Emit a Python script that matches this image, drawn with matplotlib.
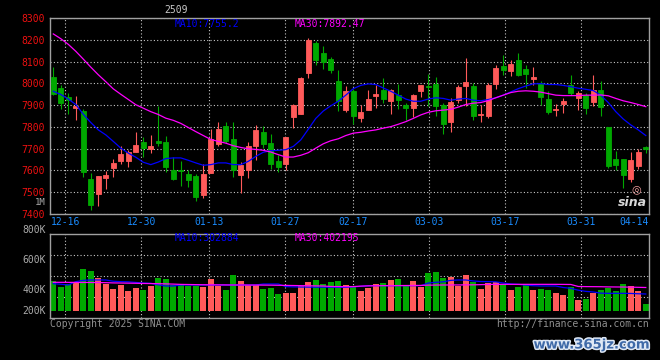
import matplotlib
matplotlib.use("Agg")
import matplotlib.pyplot as plt
import matplotlib.patheffects as pe
import numpy as np

# trading days shown (index = x position)
dates = ['12-12', '12-13', '12-16', '12-17', '12-18', '12-19', '12-20', '12-23', '12-24', '12-25',
         '12-26', '12-27', '12-30', '12-31', '01-02', '01-03', '01-06', '01-07', '01-08', '01-09',
         '01-10', '01-13', '01-14', '01-15', '01-16', '01-17', '01-20', '01-21', '01-22', '01-23',
         '01-24', '01-27', '02-05', '02-06', '02-07', '02-10', '02-11', '02-12', '02-13', '02-14',
         '02-17', '02-18', '02-19', '02-20', '02-21', '02-24', '02-25', '02-26', '02-27', '02-28',
         '03-03', '03-04', '03-05', '03-06', '03-07', '03-10', '03-11', '03-12', '03-13', '03-14',
         '03-17', '03-18', '03-19', '03-20', '03-21', '03-24', '03-25', '03-26', '03-27', '03-28',
         '03-31', '04-01', '04-02', '04-03', '04-07', '04-08', '04-09', '04-10', '04-11', '04-14']

opens = [8028, 7978, 7937, 7888, 7873, 7562, 7489, 7564, 7612, 7644,
         7641, 7682, 7731, 7699, 7736, 7731, 7603, 7603, 7585, 7574,
         7486, 7587, 7722, 7804, 7745, 7580, 7603, 7710, 7777, 7727,
         7644, 7628, 7847, 7859, 8048, 8186, 8142, 8113, 8010, 7879,
         7964, 7842, 7879, 7941, 7969, 7921, 7946, 7902, 7888, 7964,
         7988, 7996, 7900, 7824, 7924, 7988, 7988, 7854, 7851, 7998,
         8078, 8057, 8110, 8068, 8022, 8002, 7928, 7876, 7905, 7991,
         7931, 7946, 7915, 7969, 7801, 7654, 7654, 7558, 7619, 7705]
highs = [8075, 7991, 7955, 7941, 7880, 7588, 7574, 7596, 7652, 7713,
         7695, 7778, 7752, 7763, 7897, 7757, 7663, 7641, 7603, 7584,
         7631, 7792, 7824, 7824, 7824, 7638, 7728, 7809, 7804, 7768,
         7672, 7754, 7903, 8031, 8208, 8195, 8171, 8121, 8063, 7987,
         7973, 7900, 7969, 7991, 8023, 7975, 7996, 7908, 7953, 7991,
         8042, 8028, 7912, 7931, 7991, 8119, 8002, 7900, 8002, 8083,
         8131, 8106, 8139, 8086, 8074, 8013, 7964, 7903, 7931, 8037,
         7964, 7958, 8037, 8011, 7801, 7687, 7654, 7682, 7699, 7714]
lows = [7945, 7882, 7861, 7833, 7571, 7416, 7434, 7512, 7571, 7631,
        7617, 7682, 7660, 7680, 7710, 7593, 7555, 7527, 7521, 7459,
        7474, 7587, 7710, 7724, 7568, 7495, 7565, 7646, 7702, 7608,
        7593, 7603, 7797, 7859, 8025, 8083, 8068, 8048, 7874, 7870,
        7813, 7824, 7879, 7885, 7912, 7859, 7882, 7830, 7844, 7938,
        7897, 7851, 7769, 7775, 7912, 7897, 7833, 7821, 7839, 7976,
        8037, 8034, 8034, 7979, 7991, 7900, 7858, 7851, 7865, 7946,
        7877, 7859, 7897, 7851, 7611, 7599, 7520, 7547, 7608, 7678]
closes = [7952, 7912, 7925, 7897, 7591, 7440, 7574, 7579, 7635, 7676,
          7684, 7717, 7701, 7713, 7724, 7614, 7559, 7596, 7555, 7477,
          7585, 7745, 7791, 7736, 7603, 7623, 7713, 7786, 7722, 7628,
          7617, 7754, 7900, 8023, 8202, 8110, 8098, 8063, 7920, 7964,
          7851, 7868, 7929, 7950, 7928, 7969, 7923, 7888, 7946, 7991,
          7982, 7897, 7813, 7915, 7982, 8005, 7851, 7861, 7991, 8069,
          8060, 8090, 8039, 8043, 8028, 7938, 7870, 7882, 7921, 7955,
          7955, 7888, 7969, 7893, 7619, 7626, 7577, 7649, 7682, 7699]

ma10 = [7964, 7949, 7928, 7903, 7858, 7820, 7786, 7763, 7733, 7702,
        7679, 7660, 7637, 7626, 7638, 7654, 7657, 7657, 7646, 7634,
        7623, 7626, 7634, 7634, 7626, 7626, 7641, 7664, 7683, 7690,
        7692, 7695, 7710, 7740, 7789, 7839, 7873, 7897, 7918, 7946,
        7976, 7991, 7998, 7995, 7979, 7964, 7946, 7928, 7918, 7918,
        7928, 7934, 7931, 7923, 7928, 7931, 7923, 7920, 7926, 7934,
        7946, 7961, 7976, 7988, 7998, 7999, 7995, 7995, 7991, 7985,
        7978, 7973, 7967, 7946, 7912, 7870, 7836, 7809, 7786, 7760]
ma30 = [8228, 8206, 8180, 8148, 8112, 8075, 8040, 8008, 7975, 7950,
        7926, 7902, 7886, 7870, 7857, 7840, 7830, 7816, 7797, 7778,
        7760, 7742, 7733, 7725, 7713, 7705, 7699, 7696, 7692, 7684,
        7672, 7661, 7661, 7669, 7681, 7702, 7722, 7736, 7745, 7760,
        7771, 7775, 7781, 7786, 7794, 7801, 7812, 7824, 7839, 7855,
        7867, 7874, 7877, 7881, 7891, 7903, 7909, 7912, 7921, 7934,
        7946, 7958, 7964, 7966, 7964, 7960, 7953, 7946, 7944, 7944,
        7944, 7946, 7946, 7947, 7943, 7931, 7920, 7912, 7903, 7893]

# volume in thousands
volume_k = [504, 403, 459, 476, 706, 672, 560, 459, 370, 437,
            336, 381, 358, 426, 554, 538, 431, 437, 426, 426,
            403, 538, 420, 353, 605, 504, 437, 437, 370, 386,
            286, 308, 308, 426, 493, 521, 454, 493, 504, 437,
            409, 336, 392, 454, 470, 521, 538, 437, 504, 409,
            644, 655, 549, 566, 426, 605, 493, 370, 470, 493,
            437, 353, 403, 437, 353, 370, 353, 302, 269, 403,
            185, 202, 308, 353, 381, 336, 454, 420, 336, 118]
vol_ma10_k = [459, 450, 437, 493, 515, 521, 521, 521, 500, 493,
              490, 480, 470, 465, 440, 420, 420, 437, 437, 437,
              437, 437, 437, 437, 437, 437, 437, 437, 454, 454,
              454, 410, 405, 403, 402, 400, 400, 400, 398, 398,
              405, 415, 426, 426, 426, 426, 426, 426, 426, 426,
              470, 482, 490, 515, 521, 521, 505, 495, 493, 490,
              470, 455, 448, 435, 425, 420, 420, 420, 395, 381,
              350, 330, 320, 300, 297, 297, 297, 295, 290, 286]
vol_ma30_k = [482, 482, 481, 480, 480, 479, 478, 476, 472, 470,
              468, 466, 463, 461, 459, 456, 452, 447, 445, 443,
              441, 440, 439, 438, 437, 437, 436, 436, 435, 434,
              432, 430, 428, 426, 424, 422, 420, 412, 410, 409,
              410, 418, 422, 425, 426, 426, 427, 428, 429, 430,
              434, 436, 437, 438, 438, 439, 440, 443, 446, 447,
              448, 448, 448, 448, 448, 448, 448, 448, 447, 446,
              412, 410, 409, 408, 405, 404, 403, 401, 398, 395]

label_dates = ['12-16', '12-30', '01-13', '01-27', '02-17', '03-03', '03-17', '03-31', '04-14']
price_ticks = [8300, 8200, 8100, 8000, 7900, 7800, 7700, 7600, 7500, 7400]

RED = '#ff5a5a'
GREEN = '#00a800'
GRID = '#c8c8c8'
BORDER = '#a0a0a0'
MONO = 'DejaVu Sans Mono'
FS = 7

o = np.array(opens); h = np.array(highs); l = np.array(lows); c = np.array(closes)
x = np.arange(len(dates))
up = c >= o
colors = np.where(up, RED, GREEN)

fig = plt.figure(figsize=(6.6, 3.6), dpi=100, facecolor='black')
ax = fig.add_axes([50 / 660, 1 - 213.7 / 360, 599 / 660, 195.4 / 360])
axv = fig.add_axes([50 / 660, 1 - 317.7 / 360, 599 / 660, 83.4 / 360])

x_lo, x_hi = -0.44, 79.43

# the date grid of the original is slightly stretched compared to the candles
def grid_pos(i):
    return 1.6 + (i - 2) * 1.011

grid_x = [grid_pos(dates.index(d)) for d in label_dates]

for a in (ax, axv):
    a.set_facecolor('black')
    a.set_xlim(x_lo, x_hi)
    for s in a.spines.values():
        s.set_color(BORDER)
        s.set_linewidth(1)
    a.set_xticks([])
    for gx in grid_x:
        if gx < x_hi - 1:
            a.axvline(gx, color=GRID, lw=0.8, ls=(0, (1, 2)), zorder=0)

# ---- price panel ----
ax.vlines(x, l, h, color=colors, lw=0.8, zorder=2)
ax.bar(x, np.abs(c - o), bottom=np.minimum(o, c), width=0.72,
       color=colors, edgecolor=colors, lw=0.6, zorder=3)
ax.plot(x, ma10, color='#0000ff', lw=0.9, zorder=4)
ax.plot(x, ma30, color='#ff00ff', lw=0.9, zorder=4)

ax.set_ylim(7400, 8300)
ax.set_yticks(price_ticks)
ax.set_yticklabels([str(t) for t in price_ticks], color='#ee1111',
                   fontsize=FS, family=MONO)
ax.tick_params(axis='y', length=0, pad=4)
ax.grid(axis='y', color=GRID, lw=0.8, ls=(0, (1, 2)))
ax.text(-0.007, 0.058, '1M', transform=ax.transAxes, ha='right', va='center',
        color='#aaaaaa', fontsize=6.5, family=MONO)

for d, gx in zip(label_dates, grid_x):
    ha = 'center'
    if gx > x_hi - 2:
        gx, ha = x_hi, 'right'
    ax.text(gx, -0.04, d, transform=ax.get_xaxis_transform(), ha=ha, va='center',
            color='#1a8cff', fontsize=FS, family=MONO)

ax.text(0.2087, 0.973, 'MA10:7755.2', transform=ax.transAxes, color='#0000ff',
        fontsize=FS, family=MONO, va='center')
ax.text(0.409, 0.973, 'MA30:7892.47', transform=ax.transAxes, color='#ff00ff',
        fontsize=FS, family=MONO, va='center')

# sina logo
ax.text(0.978, 0.125, '◎', transform=ax.transAxes, ha='center', va='center',
        color='#f4a0a0', fontsize=8)
ax.text(0.972, 0.055, 'sina', transform=ax.transAxes, ha='center', va='center',
        color='#d8d8d8', fontsize=9, fontweight='bold', style='italic')

# ---- volume panel ----
vol = np.array(volume_k) * 1000
axv.bar(x, vol, width=0.75, color=colors, zorder=2)
axv.plot(x, np.array(vol_ma10_k) * 1000, color='#0000ff', lw=0.9, zorder=3)
axv.plot(x, np.array(vol_ma30_k) * 1000, color='#ff00ff', lw=0.9, zorder=3)
v_lo, v_hi = -112e3, 1288e3
axv.set_ylim(v_lo, v_hi)
axv.set_yticks([v_lo + (v_hi - v_lo) * f for f in (0.25, 0.5, 0.75)])
axv.set_yticklabels([])
axv.tick_params(axis='y', length=0)
axv.grid(axis='y', color=GRID, lw=0.8, ls=(0, (1, 2)))

for lab, fy in zip(['800K', '600K', '400K', '200K'], [1.052, 0.692, 0.332, 0.08]):
    axv.text(-0.007, fy, lab, transform=axv.transAxes, ha='right', va='center',
             color='#aaaaaa', fontsize=FS, family=MONO)

axv.text(0.2087, 0.956, 'MA10:302884', transform=axv.transAxes, color='#0000ff',
         fontsize=FS, family=MONO, va='center')
axv.text(0.409, 0.956, 'MA30:402195', transform=axv.transAxes, color='#ff00ff',
         fontsize=FS, family=MONO, va='center')

# ---- figure texts ----
fig.text(176.5 / 660, 1 - 10 / 360, '2509', ha='center', va='center',
         color='#c8c8c8', fontsize=FS, family=MONO)
fig.text(50 / 660, 1 - 324 / 360, 'Copyright 2025 SINA.COM', ha='left', va='center',
         color='#909090', fontsize=FS, family=MONO)
fig.text(649 / 660, 1 - 324 / 360, 'http://finance.sina.com.cn', ha='right', va='center',
         color='#909090', fontsize=FS, family=MONO)
fig.text(592 / 660, 1 - 345 / 360, 'www.365jz.com', ha='center', va='center',
         color='#3f6aa8', fontsize=9.5, fontweight='bold',
         path_effects=[pe.withStroke(linewidth=2.2, foreground='#dfe8f5')])

fig.savefig('out.png', dpi=100, facecolor='black')
